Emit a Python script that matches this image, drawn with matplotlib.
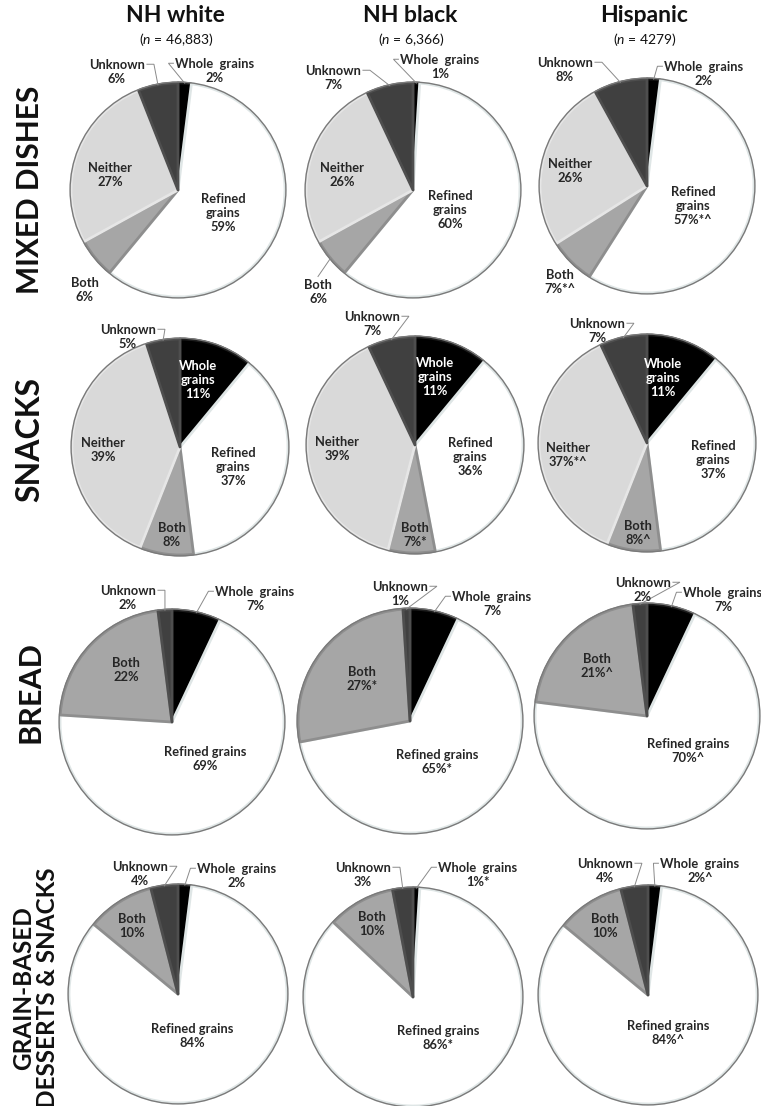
import matplotlib
matplotlib.use('Agg')
import matplotlib.pyplot as plt
from matplotlib.patches import Circle
import numpy as np

plt.rcParams['font.family'] = ['Lato', 'DejaVu Sans']
plt.rcParams['mathtext.fontset'] = 'custom'
plt.rcParams['mathtext.it'] = 'Lato:italic'
plt.rcParams['mathtext.rm'] = 'Lato'

# ---------------- data ----------------
groups = ['NH white', 'NH black', 'Hispanic']
group_n = ['46,883', '6,366', '4279']
food_rows = ['MIXED DISHES', 'SNACKS', 'BREAD', 'GRAIN-BASED\nDESSERTS & SNACKS']
categories = ['Whole grains', 'Refined grains', 'Both', 'Neither', 'Unknown']

# percentages per group, in category order (0 = category not shown)
mixed_dishes = [[2, 59, 6, 27, 6], [1, 60, 6, 26, 7], [2, 57, 7, 26, 8]]
snacks = [[11, 37, 8, 39, 5], [11, 36, 7, 39, 7], [11, 37, 8, 37, 7]]
bread = [[7, 69, 22, 0, 2], [7, 65, 27, 0, 1], [7, 70, 21, 0, 2]]
desserts = [[2, 84, 10, 0, 4], [1, 86, 10, 0, 3], [2, 84, 10, 0, 4]]

# significance markers
mixed_marks = [{}, {}, {'Refined grains': '*^', 'Both': '*^'}]
snacks_marks = [{}, {'Both': '*'}, {'Both': '^', 'Neither': '*^'}]
bread_marks = [{}, {'Both': '*', 'Refined grains': '*'}, {'Both': '^', 'Refined grains': '^'}]
desserts_marks = [{}, {'Whole grains': '*', 'Refined grains': '*'},
                  {'Whole grains': '^', 'Refined grains': '^'}]

all_values = [mixed_dishes, snacks, bread, desserts]
all_marks = [mixed_marks, snacks_marks, bread_marks, desserts_marks]

# ---------------- style / layout ----------------
W, H = 761, 1106
fill = {'Whole grains': '#000000', 'Refined grains': '#ffffff', 'Both': '#a6a6a6',
        'Neither': '#d9d9d9', 'Unknown': '#404040'}
rim = {'Whole grains': '#1c1c1c', 'Refined grains': '#dfe6e6', 'Both': '#8e8e8e',
       'Neither': '#e6e6e6', 'Unknown': '#4e4e4e'}

centers = [[(178, 190), (413, 190), (647, 186)],
           [(180, 447), (415, 445), (647, 443)],
           [(172, 722), (410, 721), (647, 716)],
           [(178, 994), (413, 997), (648, 995)]]
radii = [107, 108, 112, 109]

# label block offsets from the pie centre (pixels, y down)
label_off = [
    [{'Unknown': (-61, -118), 'Whole grains': (37, -119), 'Neither': (-68, -15),
      'Refined grains': (45, 23), 'Both': (-93, 100)},
     {'Unknown': (-80, -112), 'Whole grains': (27, -123), 'Neither': (-71, -15),
      'Refined grains': (37, 20), 'Both': (-95, 102)},
     {'Unknown': (-82, -116), 'Whole grains': (57, -112), 'Neither': (-77, -15),
      'Refined grains': (46, 20), 'Both': (-87, 96)}],
    [{'Unknown': (-52, -110), 'Whole grains': (18, -67), 'Neither': (-77, 3),
      'Refined grains': (53, 20), 'Both': (-8, 88)},
     {'Unknown': (-43, -121), 'Whole grains': (20, -68), 'Neither': (-78, 4),
      'Refined grains': (55, 12), 'Both': (0, 90)},
     {'Unknown': (-50, -112), 'Whole grains': (16, -65), 'Neither': (-79, 12),
      'Refined grains': (66, 17), 'Both': (-9, 90)}],
    [{'Unknown': (-44, -124), 'Whole grains': (83, -123), 'Both': (-46, -52),
      'Refined grains': (33, 37)},
     {'Unknown': (-10, -127), 'Whole grains': (82, -117), 'Both': (-48, -42),
      'Refined grains': (27, 41)},
     {'Unknown': (-4, -126), 'Whole grains': (76, -116), 'Both': (-50, -50),
      'Refined grains': (41, 35)}],
    [{'Unknown': (-38, -120), 'Whole grains': (59, -118), 'Both': (-46, -68),
      'Refined grains': (14, 42)},
     {'Unknown': (-50, -122), 'Whole grains': (65, -122), 'Both': (-41, -73),
      'Refined grains': (25, 41)},
     {'Unknown': (-43, -124), 'Whole grains': (52, -124), 'Both': (-43, -69),
      'Refined grains': (20, 38)}],
]

row_label_pos = [(30, 190), (30, 440), (30, 692), (36, 988)]
row_label_fs = [21.5, 23, 22, 17.5]
title_y, n_y = 15, 39

LABEL_FS = 9.3
LSP = 1.2
TXT = '#262626'
LEAD = '#8a8a8a'

fig = plt.figure(figsize=(W / 100, H / 100), dpi=100)
ax = fig.add_axes([0, 0, 1, 1])
renderer = fig.canvas.get_renderer()


def Y(y):
    return H - y


def display_name(cat, row):
    if cat == 'Refined grains':
        return 'Refined\ngrains' if row < 2 else 'Refined grains'
    if cat == 'Whole grains':
        return 'Whole\ngrains' if row == 1 else 'Whole  grains'
    return cat


def first_line_width(text, x, y):
    line = text.split('\n')[0]
    t = ax.text(x, Y(y), line, fontsize=LABEL_FS, fontweight='bold', ha='center', va='center')
    bb = t.get_window_extent(renderer)
    t.remove()
    return bb.width


for r in range(4):
    for g in range(3):
        vals = all_values[r][g]
        cats = [c for c, v in zip(categories, vals) if v > 0]
        vv = [v for v in vals if v > 0]
        cx, cy = centers[r][g]
        rad = radii[r]
        wedges, _ = ax.pie(vv, startangle=90, counterclock=False, center=(cx, Y(cy)),
                           radius=rad, colors=[fill[c] for c in cats],
                           wedgeprops=dict(linewidth=2.0, joinstyle='round'))
        for w, c in zip(wedges, cats):
            w.set_edgecolor(rim[c])
        ax.add_patch(Circle((cx, Y(cy)), rad + 0.9, fill=False, edgecolor='#7a7a7a', lw=1.0, zorder=3))

        total = float(sum(vv))
        cum = 0.0
        for c, v in zip(cats, vv):
            mid = (cum + v / 2) / total * 360.0
            cum += v
            dx, dy = label_off[r][g][c]
            lx, ly = cx + dx, cy + dy
            txt = f"{display_name(c, r)}\n{v}%{all_marks[r][g].get(c, '')}"
            col = 'white' if (c == 'Whole grains' and r == 1) else TXT
            ax.text(lx, Y(ly), txt, fontsize=LABEL_FS, fontweight='bold', color=col,
                    ha='center', va='center', linespacing=LSP, zorder=5)
            # leader lines for outside labels
            outside = (c == 'Unknown') or (c == 'Whole grains' and r != 1) or \
                      (c == 'Both' and r == 0 and g == 1)
            if outside:
                ang = np.deg2rad(mid)
                ex, ey = cx + rad * np.sin(ang), cy - rad * np.cos(ang)
                nl = txt.count('\n') + 1
                lh = LABEL_FS * LSP * 100 / 72
                y1 = ly - (nl - 1) * lh / 2
                w1 = first_line_width(txt, lx, y1)
                if c == 'Unknown':
                    sx = lx + w1 / 2 + 2
                    pts = [(sx, y1), (sx + 7, y1), (ex, ey)]
                elif c == 'Whole grains':
                    sx = lx - w1 / 2 - 2
                    pts = [(sx, y1), (sx - 5, y1), (ex, ey)]
                else:
                    pts = [(lx, ly - nl * lh / 2), (ex, ey)]
                ax.plot([p[0] for p in pts], [Y(p[1]) for p in pts], color=LEAD, lw=0.7,
                        zorder=4, solid_joinstyle='miter')

# column headers
for g in range(3):
    cx = centers[0][g][0]
    ax.text(cx - 3, Y(title_y), groups[g], fontsize=16.5, fontweight='bold', ha='center',
            va='center', color='#111111')
    ax.text(cx - 2, Y(n_y), r'($\it{n}$ = ' + group_n[g] + ')', fontsize=10, ha='center',
            va='center', color='#111111')

# row labels
for r in range(4):
    x, y = row_label_pos[r]
    ax.text(x, Y(y), food_rows[r], fontsize=row_label_fs[r], fontweight='bold',
            rotation=90, ha='center', va='center', linespacing=1.05, color='#111111')

ax.set_xlim(0, W)
ax.set_ylim(0, H)
ax.set_aspect('equal', adjustable='box')
ax.axis('off')
fig.savefig('out.png', dpi=100, facecolor='white')
